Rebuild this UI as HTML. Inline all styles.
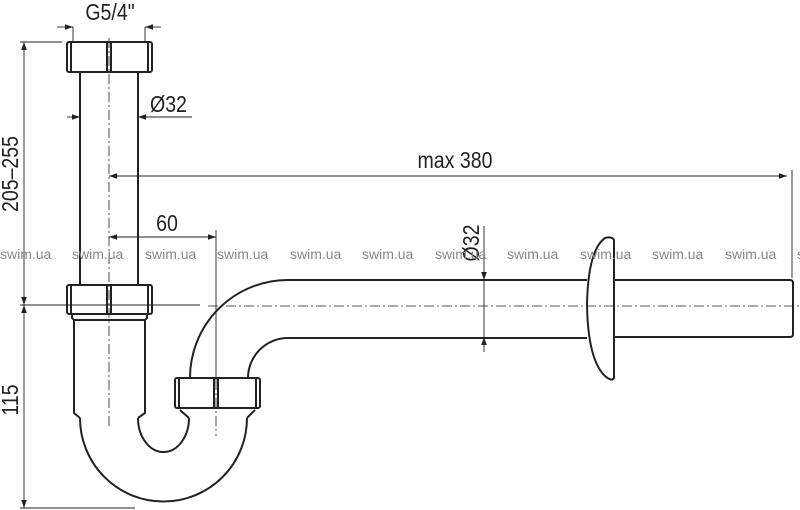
<!DOCTYPE html>
<html><head><meta charset="utf-8"><style>
html,body{margin:0;padding:0;background:#fff;width:800px;height:510px;overflow:hidden}
svg{display:block}
text{font-family:"Liberation Sans",sans-serif}
</style></head><body>
<svg width="800" height="510" viewBox="0 0 800 510" xmlns="http://www.w3.org/2000/svg">
<defs>
<marker id="a" viewBox="0 0 10 10" refX="10" refY="5" markerWidth="12" markerHeight="8" orient="auto-start-reverse" markerUnits="userSpaceOnUse"><path d="M0,1.5 L10,5 L0,8.5 z" fill="#222"/></marker>
</defs>
<g fill="none" stroke="#222">
<path d="M109 38 V428" stroke-width="0.8" stroke-dasharray="10 3 2 3"/>
<path d="M208 306 H800" stroke-width="0.8" stroke-dasharray="10 3 2 3"/>
<path d="M216 380 V436" stroke-width="0.8" stroke-dasharray="10 3 2 3"/>
<g stroke-width="0.9">
<path d="M73 27 V42 M145 27 V42"/>
<path d="M57 27 H73" marker-end="url(#a)"/><path d="M161 27 H145" marker-end="url(#a)"/>
<path d="M67 117 H80" marker-end="url(#a)"/><path d="M192 117 H138" marker-end="url(#a)"/>
<path d="M109 176 H787" marker-start="url(#a)" marker-end="url(#a)"/>
<path d="M792 170 V278"/>
<path d="M109 237 H216" marker-start="url(#a)" marker-end="url(#a)"/>
<path d="M216 230 V380"/>
<path d="M20 42 H62 M20 305 H200 M20 508 H135"/>
<path d="M24 42 V305" marker-start="url(#a)" marker-end="url(#a)"/>
<path d="M24 305 V508" marker-start="url(#a)" marker-end="url(#a)"/>
<path d="M484 226 V280" marker-end="url(#a)"/><path d="M484 352 V337" marker-end="url(#a)"/><path d="M484 280 V337"/>
</g>
<g stroke-width="2">
<rect x="67" y="42" width="85" height="30" rx="2"/>
<path d="M71 43 V71 M148 43 V71 M107 42 V72 M111 42 V72"/>
<path d="M80 72 V285 M138 72 V285"/>
<rect x="67" y="285" width="85" height="29" rx="2"/>
<path d="M71 286 V313 M148 286 V313 M107 285 V314 M111 285 V314"/>
<path d="M72 314 V318 L74 320 H145 L147 318 V314"/>
<path d="M74 320 V413 L80 418 M145 320 V413 L138 418"/>
<path d="M80 418 A83.5 83.5 0 0 0 247 418"/>
<path d="M138 418 A25.5 34 0 0 0 189 418"/>
<path d="M189 418 L180 410 M247 418 L255 410 M180 408 H255"/>
<rect x="175" y="378" width="85" height="30" rx="2"/>
<path d="M179 379 V407 M256 379 V407 M214 378 V408 M218 378 V408"/>
<path d="M190 378 A98 98 0 0 1 288 280 H587 M248 378 A40 40 0 0 1 288 338 H587"/>
<path d="M614 280 H790 Q793 280 793 283 V334 Q793 337 790 337 H614"/>
<path d="M614 240 Q612 236 605 238 Q588 250 587 305 Q588 360 605 376 Q612 382 614 378 Z"/>
</g>
</g>
<g fill="#222" font-size="23">
<text transform="translate(110,20) scale(0.85,1)" text-anchor="middle">G5/4"</text>
<text transform="translate(150,112) scale(0.85,1)">Ø32</text>
<text transform="translate(455,168) scale(0.85,1)" text-anchor="middle">max 380</text>
<text transform="translate(167,231) scale(0.85,1)" text-anchor="middle">60</text>
<text transform="translate(18,174) rotate(-90) scale(0.85,1)" text-anchor="middle">205–255</text>
<text transform="translate(18,400) rotate(-90) scale(0.85,1)" text-anchor="middle">115</text>
<text transform="translate(479,243) rotate(-90) scale(0.85,1)" text-anchor="middle">Ø32</text>
</g>
<g fill="#888" font-size="14">
<text x="0" y="259">swim.ua</text><text x="72" y="259">swim.ua</text><text x="145" y="259">swim.ua</text><text x="217" y="259">swim.ua</text><text x="290" y="259">swim.ua</text><text x="362" y="259">swim.ua</text><text x="435" y="259">swim.ua</text><text x="507" y="259">swim.ua</text><text x="580" y="259">swim.ua</text><text x="652" y="259">swim.ua</text><text x="725" y="259">swim.ua</text><text x="797" y="259">swim.ua</text>
</g>
</svg>
</body></html>
